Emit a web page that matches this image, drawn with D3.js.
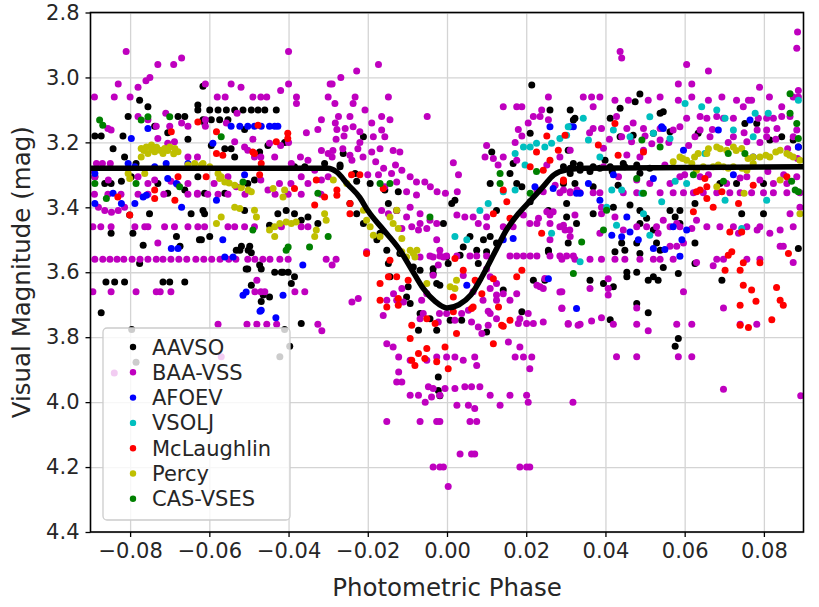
<!DOCTYPE html>
<html>
<head>
<meta charset="utf-8">
<script src="https://cdn.jsdelivr.net/npm/d3@7"></script>
<style>
  body { margin: 0; background: #fff; }
  text { font-family: "DejaVu Sans", sans-serif; fill: #262626; }
</style>
</head>
<body>
<div class="graph"></div>
<script>
// photometric phase vs visual magnitude
const xTicks = [-0.08, -0.06, -0.04, -0.02, 0.00, 0.02, 0.04, 0.06, 0.08];
const yTicks = [2.8, 3.0, 3.2, 3.4, 3.6, 3.8, 4.0, 4.2, 4.4];
const sources = ["AAVSO", "BAA-VSS", "AFOEV", "VSOLJ", "McLaughlin", "Percy", "CAS-VSES"];

const aavso = [
 [-0.0629,3.10],[-0.0599,3.10],[-0.0578,3.10],[-0.0557,3.10],[-0.0536,3.10],[-0.0515,3.10],[-0.0494,3.10],[-0.0477,3.10],[-0.046,3.10],[-0.0431,3.10],
 [-0.0616,3.13],[-0.0595,3.13],[-0.0574,3.13],[-0.0553,3.13],
 [-0.0776,3.07],[-0.0755,3.09],[-0.0805,3.12],[-0.0889,3.18],[-0.0873,3.18],[-0.0843,3.22],[-0.0818,3.18],[-0.0814,3.245],[-0.0785,3.265],[-0.0705,3.17],
 [-0.0738,3.15],[-0.0679,3.12],[-0.0662,3.12],[-0.0654,3.19],[-0.0629,3.085],[-0.0612,3.14],[-0.0595,3.21],[-0.0561,3.22],[-0.0545,3.22],[-0.0536,3.245],
 [-0.0511,3.16],[-0.0452,3.21],[-0.0473,3.23],[-0.041,3.20],[-0.0385,3.275],[-0.0359,3.275],[-0.0309,3.265],[-0.0616,3.027],
 [-0.0889,3.306],[-0.0864,3.327],[-0.0848,3.327],[-0.0822,3.32],[-0.0797,3.306],[-0.073,3.327],[-0.0705,3.357],[-0.0662,3.347],[-0.0629,3.306],
 [-0.0612,3.357],[-0.0561,3.357],[-0.0503,3.327],[-0.0486,3.316],
 [-0.0751,3.42],[-0.0848,3.48],[-0.0801,3.424],[-0.0767,3.517],[-0.0683,3.49],[-0.0646,3.42],[-0.0616,3.41],[-0.0612,3.42],[-0.0599,3.49],[-0.0625,3.50],
 [-0.0511,3.41],[-0.0523,3.532],[-0.0502,3.532],[-0.0507,3.59],[-0.0469,3.59],[-0.0448,3.455],[-0.0427,3.42],[-0.0406,3.41],[-0.0385,3.42],[-0.0418,3.60],
 [-0.0401,3.60],[-0.0368,3.44],[-0.0351,3.43],[-0.0326,3.45],[-0.0776,3.573],
 [-0.0793,3.48],[-0.0674,3.52],[-0.0861,3.63],[-0.0839,3.63],[-0.0814,3.63],[-0.0717,3.63],[-0.07,3.63],[-0.0662,3.63],[-0.0873,3.725],[-0.062,3.50],
 [-0.0532,3.532],[-0.0519,3.52],[-0.0498,3.52],[-0.0494,3.54],[-0.0473,3.578],[-0.0503,3.59],[-0.0435,3.60],[-0.0414,3.60],[-0.0385,3.614],[-0.0393,3.635],
 [-0.0494,3.64],[-0.0464,3.67],[-0.0469,3.69],[-0.0448,3.676],[-0.0368,3.758],[-0.0397,3.828],
 [-0.0796,3.776],[-0.0785,3.877],[-0.041,3.776],[-0.0422,3.86],
 [-0.0262,3.234],[-0.0211,3.183],[-0.0194,3.327],[-0.027,3.275],[-0.0232,3.296],[-0.0157,3.347],[-0.0123,3.352],[-0.0148,3.388],[-0.0127,3.41],
 [-0.0245,3.388],[-0.0228,3.42],[-0.0211,3.45],[-0.0177,3.50],[-0.0169,3.48],[-0.0152,3.532],[-0.0119,3.542],[-0.0085,3.584],[-0.0068,3.594],
 [-0.0035,3.589],[-0.0001,3.553],[0.002,3.378],[0.0012,3.388],[-0.0009,3.45],[0.0041,3.522],[0.0033,3.548],[0.0058,3.49],[0.0092,3.50],[0.0109,3.49],
 [0.0125,3.51],[0.01,3.537],[0.0075,3.532],[0.0109,3.327],[0.0113,3.23],[0.0167,3.265],[0.0159,3.296],[0.0176,3.327],[0.0189,3.337],[0.021,3.172],
 [0.0214,3.023],[0.026,3.10],[0.0311,3.10],[0.0323,3.126],[0.0294,3.275],[0.0311,3.296],[0.0294,3.327],[0.0302,3.388],[0.0302,3.43],[0.0256,3.532],
 [0.0306,3.51],[0.0256,3.41],[0.021,3.383],[0.0125,3.41],
 [-0.0148,3.573],[-0.0144,3.614],[-0.0098,3.645],[-0.0102,3.676],[-0.0093,3.696],[-0.0035,3.604],[-0.0026,3.635],[-0.0068,3.727],[-0.0072,3.779],
 [-0.0043,3.743],[-0.0026,3.779],[-0.0018,3.64],[0.0003,3.573],[0.0037,3.748],[0.0008,3.748],[0.0079,3.573],[0.01,3.784],[0.0142,3.655],[0.0189,3.722],
 [0.0218,3.625],[0.0247,3.625],[0.0256,3.537],[-0.0022,3.923],[-0.0022,3.964],[-0.0018,3.98],
 [0.0319,3.131],[0.0306,3.224],[0.0319,3.265],[0.0336,3.286],[0.0369,3.275],[0.0399,3.255],[0.0412,3.275],[0.0445,3.265],[0.0479,3.27],[0.0323,3.327],
 [0.0369,3.337],[0.0432,3.332],[0.0437,3.095],[0.0412,3.126],[0.0487,3.051],[0.0475,3.075],[0.0538,3.11],[0.0546,3.106],[0.0521,3.172],[0.0437,3.183],
 [0.047,3.178],[0.0563,3.167],[0.0634,3.172],[0.0752,3.142],[0.0782,3.142],[0.0815,3.193],[0.0845,3.183],[0.0874,3.193],[0.0887,3.214],[0.0689,3.327],
 [0.0731,3.327],[0.0799,3.327],[0.0327,3.45],[0.0369,3.42],[0.042,3.40],[0.0462,3.393],[0.0487,3.41],[0.0504,3.434],[0.0487,3.45],[0.0521,3.47],
 [0.0563,3.41],[0.0588,3.41],[0.0588,3.45],[0.0576,3.43],[0.0626,3.388],[0.0744,3.42],[0.0799,3.42],[0.0449,3.532],[0.0479,3.51],[0.0487,3.542],
 [0.0529,3.51],[0.0538,3.532],[0.0454,3.60],[0.0479,3.60],[0.0424,3.537],[0.0887,3.527],[0.0441,3.51],[0.0546,3.585],[0.0584,3.604],[0.0626,3.573],
 [0.0626,3.51],[0.0694,3.625],[0.0361,3.625],[0.0395,3.635],[0.042,3.645],[0.0454,3.614],[0.0508,3.625],[0.0521,3.614],[0.0533,3.625],[0.0412,3.746],
 [0.0479,3.696],[0.0508,3.725],[0.0584,3.804],[0.0576,3.828],
 [0.0311,3.28],[0.0336,3.27],[0.0361,3.29],[0.0386,3.28],[0.0417,3.29],[0.0449,3.275],[0.0487,3.295],[0.0512,3.28],[-0.027,3.27],[-0.0228,3.32]
];

const baaVss = [
 [-0.081,2.92],[-0.073,2.96],[-0.069,2.96],[-0.067,2.94],[-0.040,2.92],
 [-0.076,3.01],[-0.075,3.00],[-0.078,3.03],[-0.083,3.02],[-0.061,3.02],[-0.0545,3.02],[-0.052,3.03],[-0.040,3.02],[-0.042,3.04],[-0.038,3.06],[-0.038,3.08],
 [-0.0295,3.02],[-0.030,3.06],
 [-0.089,3.06],[-0.084,3.06],[-0.080,3.06],[-0.058,3.06],[-0.056,3.06],[-0.049,3.06],[-0.047,3.06],[-0.0455,3.06],
 [-0.078,3.12],[-0.0755,3.13],[-0.071,3.11],[-0.0734,3.15],[-0.070,3.15],[-0.067,3.14],[-0.0654,3.15],[-0.061,3.13],[-0.061,3.15],[-0.0557,3.14],
 [-0.053,3.11],[-0.049,3.19],[-0.042,3.21],[-0.040,3.20],[-0.037,3.245],[-0.0355,3.17],[-0.0326,3.16],[-0.0317,3.13],[-0.0282,3.14],[-0.0317,3.225],
 [-0.029,3.245],[-0.0435,3.245],[-0.047,3.245],[-0.0654,3.245],[-0.063,3.245],[-0.0885,3.265],[-0.087,3.265],[-0.085,3.265],
 [-0.0856,3.157],[-0.0848,3.162],[-0.073,3.188],[-0.0705,3.203],[-0.0688,3.198],[-0.0536,3.198],[-0.0511,3.214],[-0.0503,3.224],[-0.0486,3.245],
 [-0.0448,3.203],[-0.0393,3.265],[-0.0351,3.255],[-0.0334,3.286],[-0.030,3.234],
 [-0.089,3.36],[-0.0856,3.36],[-0.0823,3.36],[-0.078,3.36],[-0.0755,3.36],[-0.0715,3.36],[-0.0654,3.36],[-0.063,3.36],[-0.0604,3.36],[-0.0578,3.36],
 [-0.0553,3.36],[-0.051,3.36],[-0.0434,3.36],[-0.0401,3.36],[-0.0368,3.36],[-0.0318,3.36],
 [-0.088,3.40],[-0.0864,3.41],[-0.0847,3.415],[-0.083,3.41],[-0.0814,3.40],
 [-0.0894,3.46],[-0.0874,3.46],[-0.0848,3.46],[-0.0788,3.46],[-0.0763,3.46],[-0.0755,3.46],[-0.0713,3.46],[-0.0688,3.46],[-0.0654,3.46],[-0.0629,3.46],
 [-0.0612,3.46],[-0.0553,3.46],[-0.0536,3.46],[-0.0511,3.46],[-0.0486,3.46],[-0.0418,3.46],[-0.0368,3.46],[-0.0351,3.46],[-0.073,3.51],
 [-0.0889,3.56],[-0.0869,3.56],[-0.0851,3.56],[-0.0833,3.56],[-0.0816,3.56],[-0.0795,3.56],[-0.0775,3.56],[-0.0755,3.56],[-0.0734,3.56],[-0.0717,3.56],
 [-0.0697,3.56],[-0.0677,3.56],[-0.0657,3.56],[-0.0634,3.56],[-0.0614,3.56],[-0.0594,3.56],[-0.0573,3.56],[-0.0551,3.56],[-0.0533,3.56],[-0.0503,3.56],
 [-0.0485,3.56],[-0.0465,3.56],[-0.0447,3.56],[-0.0422,3.56],[-0.0401,3.56],[-0.0305,3.56],[-0.028,3.56],
 [-0.0894,3.66],[-0.0848,3.66],[-0.0785,3.66],[-0.0734,3.66],[-0.0724,3.66],[-0.0697,3.66],[-0.0485,3.66],[-0.047,3.66],[-0.046,3.66],[-0.0384,3.66],
 [-0.0359,3.66],[-0.048,3.625],
 [-0.0578,3.76],[-0.0505,3.76],[-0.048,3.76],[-0.0455,3.76],[-0.043,3.76],[-0.0326,3.76],[-0.0316,3.78],[-0.057,3.86],[-0.084,3.91],
 [-0.0897,3.285],[-0.0889,3.306],[-0.0855,3.316],[-0.078,3.306],[-0.0755,3.327],[-0.0738,3.316],[-0.0697,3.32],[-0.068,3.33],[-0.0654,3.327],[-0.063,3.357],
 [-0.0588,3.327],[-0.0553,3.306],[-0.0532,3.337],[-0.047,3.316],[-0.0452,3.347],[-0.0423,3.327],[-0.0394,3.327],[-0.0368,3.306],[-0.0351,3.327],
 [-0.0317,3.316],[-0.03,3.306],
 [-0.0173,2.96],[-0.0228,2.98],[-0.0268,3.00],[-0.029,3.02],[-0.0148,3.06],[-0.0232,3.06],[-0.0283,3.08],[-0.0237,3.08],[-0.0207,3.10],[-0.0274,3.12],
 [-0.0245,3.12],[-0.0165,3.12],[-0.0144,3.13],[-0.005,3.12],
 [-0.0278,3.16],[-0.0257,3.157],[-0.0237,3.152],[-0.022,3.167],[-0.0165,3.162],[-0.0186,3.183],[-0.0157,3.183],
 [-0.026,3.18],[-0.022,3.20],[-0.019,3.14],[-0.028,3.19],[-0.024,3.255],[-0.018,3.26],[-0.013,3.27],[-0.020,3.30],[-0.016,3.28],
 [-0.0288,3.225],[-0.0263,3.22],[-0.0245,3.24],[-0.0225,3.22],[-0.0212,3.245],[-0.019,3.23],[-0.0169,3.22],[-0.0136,3.225],[-0.0119,3.23],
 [-0.0173,3.30],[-0.014,3.296],[-0.0114,3.286],[-0.0093,3.306],[-0.0077,3.322],[-0.0056,3.322],[-0.0042,3.337],[-0.0025,3.352],[-0.0004,3.357],
 [0.0026,3.352],[-0.0102,3.352],[-0.0077,3.362],[-0.0157,3.337],[-0.0127,3.322],
 [-0.0093,3.40],[-0.0068,3.42],[-0.0043,3.44],[-0.0026,3.45],[-0.0102,3.43],[-0.0068,3.45],[-0.0165,3.41],[-0.0148,3.42],[-0.0127,3.41],
 [-0.0114,3.465],[-0.0089,3.46],[-0.0072,3.47],[-0.0051,3.465],[-0.0026,3.50],[-0.0018,3.532],[0.0025,3.424],[0.0045,3.43],[0.0066,3.43],[0.0079,3.45],
 [0.010,3.43],[0.010,3.46],[0.0142,3.46],[0.0167,3.46],[0.0193,3.424],[0.0209,3.45],[0.0227,3.45],[0.026,3.424],[0.026,3.45],[0.0294,3.455],[0.031,3.47],
 [0.0142,3.09],[0.0176,3.09],[0.0189,3.09],[0.0256,3.06],[0.0239,3.10],[0.0218,3.12],[0.0235,3.12],[0.0256,3.13],[0.0205,3.14],[0.018,3.16],
 [0.0189,3.18],[0.0172,3.20],[0.010,3.21],[0.0096,3.245],[0.0117,3.25],[0.0142,3.245],[0.0129,3.27],[0.0176,3.255],[0.0029,3.30],[0.0016,3.263],
 [0.0252,3.27],[0.0285,3.245],[0.0227,3.347],[0.0243,3.352],[0.0273,3.332],[0.0294,3.347],[0.0311,3.352],[0.0328,3.347],[0.0252,3.414],[0.0268,3.414],
 [0.0231,3.434],[0.0285,3.46],[0.0298,3.47],[0.0311,3.49],[0.026,3.50],
 [0.0437,2.92],[0.0441,2.94],[0.0885,2.86],[0.0883,2.91],[0.0605,2.96],[0.066,2.98],[0.0584,3.02],[0.0618,3.02],[0.0789,3.03],[0.0887,3.04],
 [0.0344,3.06],[0.0365,3.06],[0.0386,3.06],[0.0369,3.09],[0.0424,3.07],[0.0458,3.07],[0.0508,3.07],[0.0538,3.06],[0.0584,3.07],[0.0618,3.06],
 [0.066,3.07],[0.0694,3.06],[0.0731,3.07],[0.0761,3.07],[0.0748,3.09],[0.0769,3.07],[0.0814,3.06],[0.0845,3.09],[0.0874,3.06],[0.0887,3.06],
 [0.0428,3.12],[0.0454,3.157],[0.0605,3.126],[0.0639,3.12],[0.0656,3.126],[0.0681,3.12],[0.0698,3.126],[0.0723,3.126],[0.0786,3.126],[0.0807,3.126],
 [0.0824,3.126],[0.0845,3.12],[0.0866,3.12],[0.0369,3.157],[0.039,3.157],[0.0496,3.157],[0.0538,3.157],[0.0571,3.162],[0.0588,3.152],[0.0639,3.162],
 [0.0783,3.162],[0.0807,3.162],[0.0833,3.157],[0.0883,3.162],
 [0.047,3.14],[0.050,3.18],[0.056,3.20],[0.061,3.21],[0.067,3.16],[0.071,3.20],[0.075,3.17],[0.079,3.20],[0.083,3.19],[0.086,3.22],[0.0885,3.25],
 [0.036,3.17],[0.041,3.19],[0.055,3.27],[0.060,3.30],[0.066,3.30],[0.074,3.31],[0.081,3.29],[0.085,3.30],
 [0.0441,3.183],[0.0466,3.198],[0.0496,3.224],[0.0538,3.193],[0.0626,3.183],[0.0664,3.183],[0.0723,3.183],[0.0757,3.198],[0.0807,3.183],[0.0874,3.183],
 [0.0311,3.224],[0.0395,3.218],[0.0454,3.239],[0.0487,3.245],[0.0517,3.204],
 [0.0285,3.355],[0.0311,3.355],[0.0336,3.355],[0.0369,3.355],[0.0386,3.355],[0.0445,3.355],[0.0479,3.355],[0.0538,3.355],[0.0571,3.355],[0.0597,3.355],
 [0.0622,3.355],[0.0647,3.355],[0.0681,3.355],[0.0714,3.355],[0.074,3.355],[0.0769,3.355],[0.0799,3.355],[0.0824,3.355],[0.0858,3.355],[0.0891,3.355],
 [0.0395,3.275],[0.0433,3.306],[0.0479,3.316],[0.0512,3.327],[0.0563,3.327],[0.0588,3.306],[0.0639,3.306],[0.0706,3.327],[0.0757,3.306],[0.079,3.316],
 [0.0824,3.327],[0.0858,3.327],[0.0883,3.306],
 [0.0323,3.424],[0.039,3.40],[0.039,3.42],[0.0424,3.43],
 [0.0479,3.46],[0.0504,3.46],[0.0529,3.46],[0.0563,3.46],[0.0588,3.46],[0.0618,3.465],[0.0656,3.46],[0.0689,3.46],[0.0723,3.46],[0.0757,3.46],
 [0.079,3.46],[0.0841,3.47],[0.0874,3.46],[0.0386,3.48],
 [0.0445,3.47],[0.0533,3.48],[0.0546,3.44],[0.058,3.45],[0.063,3.44],[0.0736,3.48],[0.0783,3.47],[0.0815,3.48],[0.0849,3.52],[0.0866,3.42],[0.0891,3.40],
 [0.029,3.56],[0.0323,3.56],[0.0361,3.56],[0.039,3.56],[0.0424,3.56],[0.0449,3.56],[0.0487,3.56],[0.0521,3.56],[0.0538,3.56],[0.0571,3.56],
 [0.063,3.57],[0.0681,3.56],[0.0698,3.56],[0.0757,3.56],[0.079,3.56],[0.0841,3.52],[0.0874,3.57],
 [0.0407,3.62],[0.0407,3.65],[0.0407,3.67],[0.0361,3.65],[0.029,3.66],[0.0597,3.66],[0.029,3.71],[0.0479,3.71],[0.0698,3.71],[0.0306,3.76],
 [0.0336,3.76],[0.0365,3.75],[0.039,3.74],[0.042,3.76],[0.0479,3.76],[0.0508,3.78],[0.058,3.76],[0.0618,3.76],[0.074,3.76],[0.0782,3.76],
 [0.0428,3.86],[0.0479,3.86],[0.0584,3.86],[0.0618,3.86],[0.0597,3.51],[0.0563,3.52],[0.058,3.52],[0.0672,3.58],
 [0.0698,3.96],[0.0893,3.98],[0.0318,4.0],[0.0205,4.0],
 [-0.029,3.578],[-0.024,3.692],[-0.0224,3.681],[-0.0203,3.537],[-0.0161,3.733],[-0.0152,3.686],[-0.0127,3.686],[-0.0114,3.65],[-0.011,3.692],[-0.0135,3.666],
 [-0.0068,3.553],[-0.0035,3.553],[-0.0009,3.553],[-0.0022,3.578],[-0.0035,3.609],[-0.0051,3.666],[-0.0064,3.686],[-0.006,3.727],[-0.0068,3.743],
 [-0.0019,3.727],[-0.0001,3.727],[-0.0022,3.753],[0.002,3.748],[0.0037,3.727],[0.0054,3.717],[0.0062,3.753],[0.0079,3.769],[0.0088,3.789],[0.0104,3.763],
 [0.0109,3.727],[0.0125,3.743],[0.0142,3.666],[0.0159,3.686],[0.0176,3.666],[0.0125,3.635],[0.0109,3.614],
 [0.018,3.758],[0.0201,3.758],[0.0218,3.758],[0.0243,3.753],[0.0306,3.758],[0.0331,3.763],[0.0205,3.727],[0.0184,3.743],
 [0.0235,3.645],[0.0285,3.661],[0.029,3.712],[0.0247,3.619],
 [-0.0152,3.82],[-0.0136,3.83],[-0.0122,3.861],[-0.0093,3.871],[-0.0051,3.871],[-0.0026,3.861],[-0.0001,3.861],[0.002,3.861],[0.0041,3.871],[0.007,3.861],
 [0.0075,3.887],[0.0172,3.861],[0.0193,3.861],[0.0214,3.861],[0.0155,3.815],[0.0184,3.83],[0.0209,3.897],
 [-0.0122,3.907],[-0.0114,3.938],[-0.0127,3.938],[-0.0047,3.953],[-0.0035,3.958],[-0.0005,3.958],[0.002,3.958],[0.0045,3.953],[0.0062,3.953],
 [0.0083,3.953],[-0.0039,3.984],[-0.0018,3.979],[-0.0093,3.979],[-0.0072,3.979],[-0.0055,4.0],[0.0025,4.01],[0.0054,4.01],[0.007,4.02],[0.0109,3.979],
 [0.0134,4.01],[0.0159,3.979],[0.0201,3.979],
 [-0.0152,4.06],[-0.0068,4.06],[-0.0026,4.06],[-0.0018,4.06],[0.0058,4.06],[0.0075,4.06],
 [0.0033,4.16],[0.0062,4.16],[0.007,4.16],
 [-0.0035,4.20],[-0.0018,4.20],[-0.0009,4.20],[0.0184,4.20],[0.0201,4.20],[0.0209,4.20],[0.0003,4.26],
 [-0.0043,3.55],[-0.0018,3.55],[-0.0001,3.55],[0.0025,3.55],[0.0058,3.55],[0.0075,3.55],[0.01,3.55],[0.0159,3.55],[0.0176,3.55],[0.0193,3.55],
 [0.021,3.55],[0.0227,3.55],[0.026,3.55],[0.0285,3.55],[0.0302,3.55],[0.0319,3.55],
 [0.01,3.59],[0.0109,3.65],[0.0125,3.67],[0.0125,3.686],[0.0091,3.686],[0.0104,3.72],[0.0066,3.66],[0.0075,3.63],[0.0041,3.61],[0.0227,3.64],[0.0243,3.65]
];

const afoev = [
 [-0.0545,3.15],[-0.0523,3.15],[-0.0503,3.15],[-0.0486,3.15],[-0.0469,3.15],[-0.0448,3.15],[-0.0435,3.15],[-0.0427,3.15],
 [-0.0755,3.157],[-0.0797,3.188],[-0.0709,3.265],[-0.0738,3.275],[-0.0805,3.265],[-0.0788,3.275],[-0.0654,3.265],[-0.0705,3.311],[-0.0683,3.327],
 [-0.0889,3.296],[-0.0843,3.357],[-0.0889,3.388],[-0.0822,3.388],[-0.0788,3.388],[-0.0767,3.368],[-0.0759,3.363],[-0.067,3.40],[-0.0582,3.378],
 [-0.0566,3.50],[-0.0696,3.527],[-0.0679,3.527],[-0.0561,3.553],[-0.054,3.553],[-0.0364,3.578],[-0.0511,3.30],[-0.0591,3.203],[-0.0515,3.671],
 [-0.0507,3.661],[-0.0469,3.717],[-0.0432,3.74],[-0.0414,3.671],[-0.0472,3.72],
 [0.026,3.152],[0.0311,3.152],[0.0319,3.152],[0.0222,3.337],[0.0268,3.342],[0.0327,3.357],[0.0142,3.50],[0.0167,3.496],[0.005,3.64],[0.0256,3.62],
 [0.0327,3.712],[0.0542,3.152],[0.0546,3.157],[0.0597,3.224],[0.0685,3.162],[0.0765,3.131],[0.0887,3.214],[0.042,3.30],[0.0521,3.311],[0.0723,3.30],
 [0.0773,3.245],[0.0357,3.327],[0.0336,3.357],[0.0386,3.378],[0.0454,3.43],[0.0416,3.486],[0.0441,3.491],[0.0462,3.476],[0.0483,3.50],[0.0521,3.527],
 [0.055,3.53],[0.0571,3.46],[0.0593,3.50],[0.0605,3.47],[0.0588,3.551]
];

const vsolj = [
 [0.002,3.49],[0.005,3.50],[0.0083,3.41],[0.0104,3.388],[0.0172,3.347],[0.0197,3.27],[0.0172,3.234],[0.0193,3.214],[0.021,3.214],[0.0226,3.203],
 [0.0247,3.214],[0.0264,3.203],[0.0285,3.188],[0.0302,3.178],[0.0306,3.152],[0.0264,3.48],[0.0142,3.352],[0.0344,3.126],[0.0357,3.193],[0.0386,3.245],
 [0.042,3.162],[0.0462,3.183],[0.0512,3.121],[0.0521,3.172],[0.0563,3.188],[0.0601,3.08],[0.0643,3.09],[0.0681,3.10],[0.0702,3.126],[0.0723,3.162],
 [0.0773,3.183],[0.0778,3.11],[0.0811,3.11],[0.0887,3.07],[0.0651,3.234],[0.0576,3.32],[0.0605,3.327],[0.0416,3.347],[0.0441,3.347],[0.0492,3.357],
 [0.0542,3.383],[0.0702,3.378],[0.0807,3.378],[0.0403,3.40],[0.0496,3.42],[0.0428,3.455],[0.0512,3.486],[0.0336,3.568],[0.0744,3.465]
];

const mclaughlin = [
 [-0.0629,3.137],[-0.0696,3.167],[-0.0582,3.167],[-0.0477,3.147],[-0.0431,3.198],[-0.0402,3.172],[-0.0402,3.188],[-0.0582,3.234],[-0.0566,3.24],
 [-0.049,3.23],[-0.0486,3.234],[-0.0469,3.265],[-0.0473,3.30],[-0.0608,3.306],[-0.0679,3.306],[-0.033,3.316],[-0.0385,3.342],[-0.0738,3.347],
 [-0.0738,3.373],[-0.0687,3.378],[-0.0831,3.368],[-0.0801,3.424],[-0.0309,3.368],[-0.0334,3.393],[-0.0241,3.30],[-0.0245,3.388],[-0.0245,3.42],
 [-0.0203,3.542],[-0.0148,3.614],[-0.0127,3.614],[-0.0169,3.635],[-0.022,3.30],[-0.0278,3.347],[-0.0278,3.363],[-0.0161,3.342],[-0.0144,3.563],
 [0.002,3.558],[0.0041,3.594],[0.0117,3.42],[0.0142,3.347],[0.0151,3.383],[0.0159,3.434],[0.021,3.275],[0.0226,3.23],[0.0252,3.18],[0.026,3.255],
 [0.0243,3.286],[0.0281,3.224],[0.0298,3.178],[0.0294,3.316],[0.0239,3.48],[0.0189,3.594],
 [-0.0169,3.686],[-0.0152,3.707],[-0.0123,3.702],[-0.0123,3.681],[-0.0098,3.625],[-0.0089,3.763],[-0.0051,3.743],[-0.0093,3.804],[-0.0051,3.835],
 [-0.0072,3.85],[-0.0089,3.871],[-0.0081,3.887],[-0.0056,3.866],[-0.0026,3.876],[-0.0005,3.83],[0.0003,3.897],[0.0024,3.789],[0.0016,3.676],
 [0.0016,3.722],[0.0066,3.707],[0.0088,3.666],[0.0071,3.625],[0.0117,3.62],[0.013,3.707],[0.0138,3.763],[0.0159,3.748],[0.0117,3.82],[0.0176,3.614],
 [-0.003,3.758],[0.0062,3.712],[0.0142,3.766],
 [0.0382,3.208],[0.0424,3.142],[0.0432,3.24],[0.0496,3.23],[0.0622,3.414],[0.063,3.352],[0.0639,3.347],[0.0656,3.337],[0.0656,3.373],[0.0672,3.40],
 [0.0694,3.352],[0.0651,3.311],[0.0773,3.332],[0.0736,3.388],[0.0714,3.476],[0.071,3.548],[0.0719,3.537],[0.074,3.594],[0.0862,3.542],[0.0858,3.306],
 [0.0294,3.32],[0.0744,3.476],[0.0702,3.594],[0.0748,3.571],[0.079,3.571],[0.0748,3.64],[0.0769,3.655],[0.078,3.689],[0.074,3.702],[0.0832,3.647],
 [0.0841,3.686],[0.0849,3.702],[0.082,3.746],[0.074,3.763],[0.0761,3.77]
];

const percy = [
 [-0.0772,3.219],[-0.0759,3.214],[-0.0746,3.208],[-0.0738,3.229],[-0.0725,3.224],[-0.0713,3.219],[-0.07,3.214],[-0.0687,3.219],[-0.0679,3.229],
 [-0.0772,3.245],[-0.0755,3.234],[-0.0717,3.234],[-0.0765,3.225],[-0.0745,3.222],[-0.0705,3.225],[-0.069,3.235],[-0.0733,3.215],
 [-0.0805,3.296],[-0.0801,3.311],[-0.0763,3.296],[-0.0654,3.27],[-0.0637,3.265],[-0.0616,3.265],[-0.062,3.27],[-0.055,3.325],[-0.052,3.34],
 [-0.0599,3.275],[-0.0578,3.296],[-0.0574,3.311],[-0.0561,3.322],[-0.0536,3.332],[-0.0519,3.337],[-0.0502,3.347],[-0.0494,3.352],[-0.057,3.306],
 [-0.0439,3.342],[-0.041,3.347],[-0.0414,3.368],[-0.0536,3.40],[-0.0523,3.404],[-0.057,3.43],[-0.0582,3.45],[-0.0486,3.409],[-0.0481,3.43],
 [-0.0448,3.47],[-0.0435,3.46],[-0.0422,3.45],[-0.0406,3.445],[-0.0393,3.45],[-0.0381,3.445],[-0.0435,3.49],[-0.0334,3.49],[-0.033,3.47],
 [-0.0309,3.42],[-0.0305,3.44],
 [-0.0287,3.316],[-0.0253,3.327],[-0.0211,3.409],[-0.0203,3.44],[-0.0194,3.46],[-0.0144,3.43],[-0.0136,3.45],[-0.0123,3.465],[-0.0127,3.409],
 [-0.0186,3.486],[-0.0169,3.49],[-0.0114,3.496],[-0.0093,3.532],[-0.0076,3.532],[-0.0081,3.553],[-0.0102,3.553],[-0.0114,3.537],[-0.0085,3.542],
 [-0.0051,3.635],[0.0024,3.625],[0.0008,3.645],[0.002,3.65],
 [0.0571,3.26],[0.0588,3.245],[0.0605,3.255],[0.0618,3.265],[0.0634,3.234],[0.0656,3.234],[0.0681,3.214],[0.0706,3.224],[0.0723,3.214],[0.0744,3.219],
 [0.0773,3.245],[0.079,3.245],[0.0815,3.245],[0.0841,3.224],[0.0858,3.234],[0.0874,3.245],[0.0891,3.255],[0.063,3.286],[0.0647,3.275],[0.0672,3.275],
 [0.0698,3.275],[0.0723,3.275],[0.0757,3.286],[0.0773,3.265],[0.0681,3.337],[0.0841,3.316],[0.0891,3.42],[0.075,3.357],
 [0.0595,3.25],[0.0625,3.245],[0.066,3.22],[0.069,3.22],[0.073,3.225],[0.076,3.25],[0.0805,3.24],[0.083,3.23],[0.0865,3.24],[0.0685,3.27],
 [0.071,3.28],[0.0745,3.28]
];

const casVses = [
 [-0.0877,3.131],[-0.0869,3.147],[-0.0772,3.131],[-0.0755,3.121],[-0.07,3.121],[-0.057,3.183],[-0.0889,3.327],[-0.0785,3.327],[-0.0675,3.337],
 [-0.0515,3.322],[-0.086,3.373],[-0.049,3.47],[-0.0401,3.522],[-0.0347,3.522],[-0.03,3.49],[-0.0326,3.357],[-0.0406,3.532],[-0.0169,3.327],
 [-0.0144,3.327],[-0.0043,3.43],[0.0134,3.296],[0.0134,3.327],[0.0226,3.29],[0.021,3.357],[0.0538,3.214],[0.0866,3.05],[0.0866,3.11],[0.0883,3.142],
 [0.0887,3.188],[0.071,3.234],[0.0752,3.234],[0.0622,3.30],[0.0698,3.32],[0.087,3.32],[0.0879,3.347],[0.0887,3.352],[0.0479,3.311],[0.0496,3.357],
 [0.0403,3.409],[0.0395,3.47],[0.034,3.507],[0.0319,3.604],[0.0492,3.193]
];

// model light curve
const modelPhase = [-0.09, -0.03, -0.028, -0.025, -0.022, -0.02, -0.016, -0.012, -0.009, -0.006, -0.003, 0.0, 0.003, 0.006, 0.009, 0.012, 0.015, 0.018, 0.021, 0.024, 0.027, 0.03, 0.035, 0.09];
const modelMag   = [3.28, 3.28, 3.29, 3.33, 3.37, 3.41, 3.47, 3.53, 3.59, 3.65, 3.69, 3.71, 3.70, 3.67, 3.61, 3.54, 3.47, 3.42, 3.38, 3.34, 3.30, 3.285, 3.28, 3.275];

const seriesList = [aavso, baaVss, afoev, vsolj, mclaughlin, percy, casVses];
const colors = ["#000000", "#bf00bf", "#0000ff", "#00bfbf", "#ff0000", "#bfbf00", "#008000"];

const W = 819, H = 607;
const plotL = 90.5, plotR = 803.5, plotT = 12.5, plotB = 532;

const xScale = d3.scaleLinear().domain([-0.09, 0.09]).range([plotL, plotR]);
const yScale = d3.scaleLinear().domain([2.8, 4.4]).range([plotT, plotB]);

const svg = d3.select(".graph").append("svg")
  .attr("width", W).attr("height", H);

svg.append("defs").append("clipPath").attr("id", "plotclip")
  .append("rect").attr("x", plotL).attr("y", plotT)
  .attr("width", plotR - plotL).attr("height", plotB - plotT);

// grid
svg.append("g")
  .attr("transform", "translate(0," + plotB + ")")
  .call(d3.axisBottom(xScale).tickValues(xTicks).tickSize(-(plotB - plotT)).tickFormat(""))
  .call(g => g.select(".domain").remove())
  .selectAll("line").attr("stroke", "#d4d4d4").attr("stroke-width", 1.3);
svg.append("g")
  .attr("transform", "translate(" + plotL + ",0)")
  .call(d3.axisLeft(yScale).tickValues(yTicks).tickSize(-(plotR - plotL)).tickFormat(""))
  .call(g => g.select(".domain").remove())
  .selectAll("line").attr("stroke", "#d4d4d4").attr("stroke-width", 1.3);

const plot = svg.append("g").attr("clip-path", "url(#plotclip)");

seriesList.forEach((data, i) => {
  plot.append("g").selectAll("circle")
    .data(data)
    .enter()
    .append("circle")
    .attr("cx", d => xScale(d[0]))
    .attr("cy", d => yScale(d[1]))
    .attr("r", 3.5)
    .attr("fill", colors[i]);
});

const line = d3.line()
  .x(d => xScale(d[0]))
  .y(d => yScale(d[1]))
  .curve(d3.curveMonotoneX);

plot.append("path")
  .datum(modelPhase.map((p, i) => [p, modelMag[i]]))
  .attr("d", line)
  .attr("fill", "none")
  .attr("stroke", "#000")
  .attr("stroke-width", 5.5)
  .attr("stroke-linejoin", "round");

// axes
const xAxis = svg.append("g")
  .attr("transform", "translate(0," + plotB + ")")
  .call(d3.axisBottom(xScale).tickValues(xTicks).tickSize(5).tickPadding(6).tickFormat(d3.format(".2f")));
const yAxis = svg.append("g")
  .attr("transform", "translate(" + plotL + ",0)")
  .call(d3.axisLeft(yScale).tickValues(yTicks).tickSize(5).tickPadding(6).tickFormat(d3.format(".1f")));
[xAxis, yAxis].forEach(g => {
  g.selectAll(".domain").remove();
  g.selectAll("line").attr("stroke", "#000").attr("stroke-width", 1.3);
  g.selectAll("text").attr("font-size", 21).attr("fill", "#262626")
    .style("font-family", "DejaVu Sans");
});

// frame
svg.append("rect")
  .attr("x", plotL).attr("y", plotT)
  .attr("width", plotR - plotL).attr("height", plotB - plotT)
  .attr("fill", "none").attr("stroke", "#000").attr("stroke-width", 1.6);

svg.append("text")
  .attr("x", (plotL + plotR) / 2).attr("y", 596)
  .attr("text-anchor", "middle")
  .attr("font-size", 24.5)
  .text("Photometric Phase");

svg.append("text")
  .attr("transform", "rotate(-90)")
  .attr("x", -(plotT + plotB) / 2).attr("y", 30)
  .attr("text-anchor", "middle")
  .attr("font-size", 24.5)
  .text("Visual Magnitude (mag)");

// legend
const legend = svg.append("g");
legend.append("rect")
  .attr("x", 103).attr("y", 328)
  .attr("width", 187).attr("height", 192)
  .attr("rx", 4)
  .attr("fill", "#fff").attr("fill-opacity", 0.8)
  .attr("stroke", "#cccccc").attr("stroke-width", 1.3);

sources.forEach((name, i) => {
  const cy = 347 + i * 25.3;
  legend.append("circle")
    .attr("cx", 133).attr("cy", cy).attr("r", 3.2)
    .attr("fill", colors[i]);
  legend.append("text")
    .attr("x", 152).attr("y", cy + 7.5)
    .attr("font-size", 21)
    .text(name);
});
</script>
</body>
</html>
